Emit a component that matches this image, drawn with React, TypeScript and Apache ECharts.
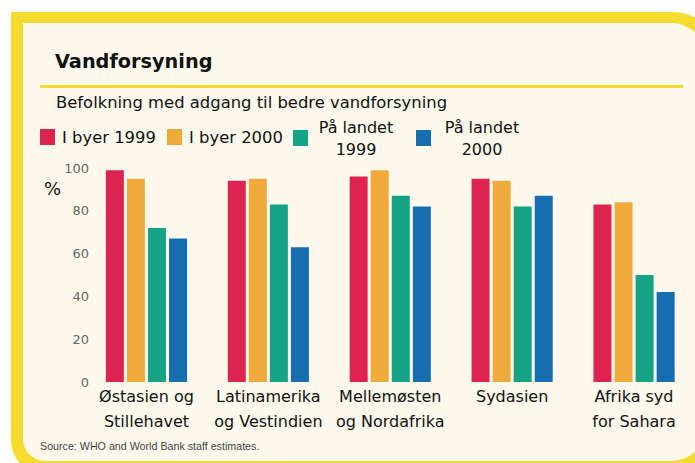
import React, { useEffect, useRef } from "react";
import * as echarts from "echarts";

const categories = [
  "Østasien og\nStillehavet",
  "Latinamerika\nog Vestindien",
  "Mellemøsten\nog Nordafrika",
  "Sydasien",
  "Afrika syd\nfor Sahara",
];
const seriesNames = ["I byer 1999", "I byer 2000", "På landet 1999", "På landet 2000"];
const urban1999 = [99, 94, 96, 95, 83];
const urban2000 = [95, 95, 99, 94, 84];
const rural1999 = [72, 83, 87, 82, 50];
const rural2000 = [67, 63, 82, 87, 42];
const seriesColors = ["#DD2350", "#F0AA3C", "#16A385", "#166EB0"];

const FONT = "DejaVu Sans";

export default function App() {
  const ref = useRef<HTMLDivElement>(null);
  useEffect(() => {
    document.body.style.margin = "0";
    if (!ref.current) return;
    const chart = echarts.init(ref.current, undefined, { renderer: "svg" });
    const values = [urban1999, urban2000, rural1999, rural2000];
    const legendBase = {
      selectedMode: false as const,
      itemWidth: 15,
      itemHeight: 16,
      icon: "rect",
      padding: 0,
      textStyle: { fontFamily: FONT, fontSize: 16.4, color: "#111", lineHeight: 16, padding: [0, 0, 0, 2] },
    };
    const twoLine = (w: number, year: string) => ({
      ...legendBase,
      textStyle: {
        fontFamily: FONT,
        fontSize: 16,
        color: "#111",
        lineHeight: 22,
        rich: { a: { width: w, align: "center", fontFamily: FONT, fontSize: 16, color: "#111", lineHeight: 22 } },
      },
      formatter: () => `{a|På landet}\n{a|${year}}`,
    });
    chart.setOption({
      animation: false,
      backgroundColor: "#ffffff",
      color: seriesColors,
      title: [
        {
          text: "Vandforsyning",
          left: 55,
          top: 51,
          padding: 0,
          textStyle: { fontFamily: FONT, fontSize: 19.3, fontWeight: "bold", color: "#111", lineHeight: 20 },
        },
        {
          text: "Befolkning med adgang til bedre vandforsyning",
          left: 56,
          top: 93,
          padding: 0,
          textStyle: { fontFamily: FONT, fontSize: 16.4, fontWeight: "normal", color: "#111", lineHeight: 18 },
        },
      ],
      legend: [
        { ...legendBase, left: 40, top: 129, data: [seriesNames[0]] },
        { ...legendBase, left: 167, top: 129, data: [seriesNames[1]] },
        { ...twoLine(86, "1999"), left: 293, top: 116, data: [seriesNames[2]] },
        { ...twoLine(92, "2000"), left: 416, top: 116, data: [seriesNames[3]] },
      ],
      grid: { left: 85.5, top: 168, width: 620, height: 214 },
      xAxis: {
        type: "category",
        data: categories,
        axisLine: { show: false },
        axisTick: { show: false },
        axisLabel: {
          interval: 0,
          margin: 2,
          fontFamily: FONT,
          fontSize: 16,
          lineHeight: 25,
          color: "#111",
        },
      },
      yAxis: {
        type: "value",
        min: 0,
        max: 100,
        interval: 20,
        axisLine: { show: false },
        axisTick: { show: false },
        splitLine: { show: false },
        axisLabel: { margin: -3.5, fontFamily: FONT, fontSize: 13, color: "#666" },
      },
      graphic: [
        {
          type: "rect",
          z: -10,
          shape: { x: 11, y: 12, width: 705, height: 461, r: [0, 42, 42, 32] },
          style: { fill: "#F6DB2F" },
        },
        {
          type: "rect",
          z: -9,
          shape: { x: 23, y: 23, width: 681, height: 438, r: [0, 32, 32, 22] },
          style: { fill: "#FDF9EC" },
        },
        {
          type: "rect",
          z: -8,
          shape: { x: 40, y: 85, width: 643, height: 3 },
          style: { fill: "#F6DB2F" },
        },
        {
          type: "text",
          left: 44,
          top: 179,
          style: { text: "%", fontFamily: FONT, fontSize: 18, fill: "#111" },
        },
        {
          type: "text",
          left: 40,
          top: 440,
          style: {
            text: "Source: WHO and World Bank staff estimates.",
            fontFamily: "Liberation Sans",
            fontSize: 10.7,
            fill: "#444",
          },
        },
      ],
      series: seriesNames.map((name, i) => ({
        name,
        type: "bar",
        data: values[i],
        barWidth: 18,
        barGap: "17%",
        itemStyle: { color: seriesColors[i] },
      })),
    });
    return () => chart.dispose();
  }, []);
  return <div ref={ref} style={{ width: 695, height: 463 }} />;
}
